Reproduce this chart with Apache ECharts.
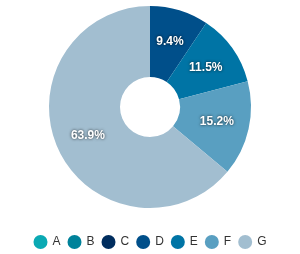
<!DOCTYPE html>
<html>
<head>
<meta charset="utf-8">
<script src="https://cdn.jsdelivr.net/npm/echarts@6/dist/echarts.min.js"></script>
<style>
html, body { margin: 0; padding: 0; background: #fff; }
#main { width: 300px; height: 254px; }
</style>
</head>
<body>
<div id="main"></div>
<script>
var categories = ['A', 'B', 'C', 'D', 'E', 'F', 'G'];
var values = [0, 0, 0, 9.4, 11.5, 15.2, 63.9];
var colors = ['#0aa9b3', '#00829a', '#002d5e', '#004f8a', '#0074a5', '#599fc1', '#a2bed0'];

var chartDom = document.getElementById('main');
var myChart = echarts.init(chartDom);
var option;

option = {
    animation: false,
    color: colors,
    textStyle: { fontFamily: 'Liberation Sans, Arial, sans-serif' },
    legend: {
        top: 230,
        left: 'center',
        icon: 'circle',
        itemWidth: 14,
        itemHeight: 14,
        itemGap: 7,
        textStyle: { fontSize: 12, color: '#333' },
        data: categories
    },
    series: [
        {
            type: 'pie',
            center: [150, 107],
            radius: [30, 101],
            startAngle: 90,
            avoidLabelOverlap: false,
            label: {
                show: true,
                position: 'inside',
                color: '#fff',
                fontSize: 12,
                fontWeight: 'bold',
                textShadowColor: 'rgba(0,0,0,0.8)',
                textShadowBlur: 3,
                formatter: function (p) {
                    return p.value > 0 ? p.percent.toFixed(1) + '%' : '';
                }
            },
            labelLine: { show: false },
            data: categories.map(function (c, i) {
                return { name: c, value: values[i] };
            })
        }
    ]
};

option && myChart.setOption(option);
</script>
</body>
</html>
